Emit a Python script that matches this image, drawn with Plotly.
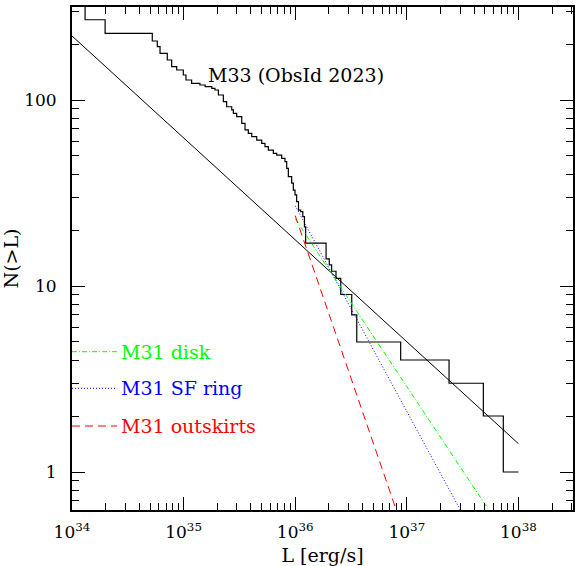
import plotly.graph_objects as go

# ---------------- data ----------------
# M33 (ObsId 2023) cumulative luminosity function N(>L) -- step vertices
m33_L = [1.00e34, 1.31e34, 1.98e34, 5.24e34, 5.81e34, 6.15e34, 7.14e34, 7.82e34,
         8.67e34, 9.94e34, 1.05e35, 1.18e35, 1.40e35, 1.56e35, 1.79e35, 1.91e35,
         2.05e35, 2.27e35, 2.43e35, 2.70e35, 2.79e35, 2.99e35, 3.32e35, 3.55e35,
         3.80e35, 4.08e35, 4.52e35, 5.01e35, 5.36e35, 5.74e35, 6.37e35, 6.83e35,
         7.57e35, 8.10e35, 8.39e35, 8.68e35, 9.30e35, 9.62e35, 9.96e35, 1.03e36,
         1.07e36, 1.12e36, 1.17e36, 1.21e36, 1.24e36, 1.89e36, 2.02e36, 2.12e36,
         2.32e36, 2.56e36, 3.21e36, 3.56e36, 8.81e36, 2.39e37, 4.85e37, 7.32e37,
         1.00e38]
m33_N = [330, 270, 228, 207.6, 193.5, 178.3, 164.1, 151.0,
         145.0, 136.3, 128.1, 123.0, 120.4, 117.9, 115.6, 113.2,
         106.4, 97.9, 92.0, 88.4, 84.8, 81.3, 74.9, 69.0,
         66.2, 63.5, 60.9, 58.5, 56.1, 53.8, 51.7, 50.6,
         48.6, 46.6, 42.9, 38.7, 35.7, 32.8, 30.9, 28.4,
         25.6, 25.1, 23.6, 20.8, 17, 14, 13, 12,
         11, 9, 7, 5, 4, 3, 2, 1,
         1]

# power-law fit to M33
fit_L = [1.0e34, 1.0e38]
fit_N = [221.0, 1.42]

# M31 template XLFs
disk_L = [1.0e36, 1.0e38]
disk_N = [23.0, 0.36]
ring_L = [1.0e36, 1.0e38]
ring_N = [27.0, 0.166]
outsk_L = [1.0e36, 1.0e37]
outsk_N = [23.9, 0.427]

legend_names = ["M31 disk", "M31 SF ring", "M31 outskirts"]
legend_colors = ["#00ff00", "#0000ff", "#ff0000"]
legend_dashes = ["5px,2px,1px,2px", "1px,2px", "8px,5px"]

# ticks
x_tickvals = [1e34, 1e35, 1e36, 1e37, 1e38]
x_ticktext = ["10<sup>34</sup>", "10<sup>35</sup>", "10<sup>36</sup>",
              "10<sup>37</sup>", "10<sup>38</sup>"]
x_minor = [k * 10.0 ** d for d in range(34, 39) for k in range(2, 10)]
y_tickvals = [1, 10, 100]
y_ticktext = ["1", "10", "100"]
y_minor = [k * 10.0 ** d for d in range(-1, 3) for k in range(2, 10)]

FONT = "DejaVu Serif"

fig = go.Figure()

fig.add_trace(go.Scatter(x=m33_L, y=m33_N, mode="lines", line_shape="hv",
                         line=dict(color="black", width=1.2), showlegend=False))
fig.add_trace(go.Scatter(x=fit_L, y=fit_N, mode="lines",
                         line=dict(color="black", width=1), showlegend=False))
for xs, ys, c, d in [(disk_L, disk_N, legend_colors[0], legend_dashes[0]),
                     (ring_L, ring_N, legend_colors[1], legend_dashes[1]),
                     (outsk_L, outsk_N, legend_colors[2], legend_dashes[2])]:
    fig.add_trace(go.Scatter(x=xs, y=ys, mode="lines",
                             line=dict(color=c, width=1, dash=d), showlegend=False))

# legend drawn inside the frame
leg_y = [0.3147, 0.2419, 0.167]
shapes = []
annotations = []
for name, c, d, yy in zip(legend_names, legend_colors, legend_dashes, leg_y):
    shapes.append(dict(type="line", xref="x domain", yref="y domain",
                       x0=0.0, x1=0.09, y0=yy, y1=yy,
                       line=dict(color=c, width=1, dash=d)))
    annotations.append(dict(xref="x domain", yref="y domain", x=0.093, y=yy,
                            text=name, showarrow=False, xanchor="left",
                            yanchor="middle", font=dict(family=FONT, size=19, color=c)))

annotations.append(dict(xref="x domain", yref="y domain", x=0.268, y=0.864,
                        text="M33 (ObsId 2023)", showarrow=False, xanchor="left",
                        yanchor="middle", font=dict(family=FONT, size=19, color="black")))

axis_common = dict(showline=True, linecolor="black", linewidth=2, mirror="allticks",
                   ticks="inside", ticklen=13, tickwidth=1.2, tickcolor="black",
                   showgrid=False, zeroline=False,
                   tickfont=dict(family=FONT, size=17, color="black"))

fig.update_xaxes(type="log", range=[34, 38.489], tickmode="array",
                 tickvals=x_tickvals, ticktext=x_ticktext,
                 minor=dict(tickmode="array", tickvals=x_minor, ticks="inside",
                            ticklen=7, tickwidth=1.2, tickcolor="black", showgrid=False),
                 title=dict(text="L [erg/s]", font=dict(family=FONT, size=19, color="black"),
                            standoff=8),
                 ticklabelstandoff=6,
                 **axis_common)
fig.update_yaxes(type="log", range=[-0.2043, 2.5], tickmode="array",
                 tickvals=y_tickvals, ticktext=y_ticktext,
                 minor=dict(tickmode="array", tickvals=y_minor, ticks="inside",
                            ticklen=7, tickwidth=1.2, tickcolor="black", showgrid=False),
                 title=dict(text="N(>L)", font=dict(family=FONT, size=19, color="black"),
                            standoff=10),
                 ticklabelstandoff=10,
                 **axis_common)

fig.update_layout(width=575, height=566, margin=dict(l=72, r=2, t=7, b=56, autoexpand=False),
                  paper_bgcolor="white", plot_bgcolor="white",
                  shapes=shapes, annotations=annotations, showlegend=False)

fig.write_html("out.html")
